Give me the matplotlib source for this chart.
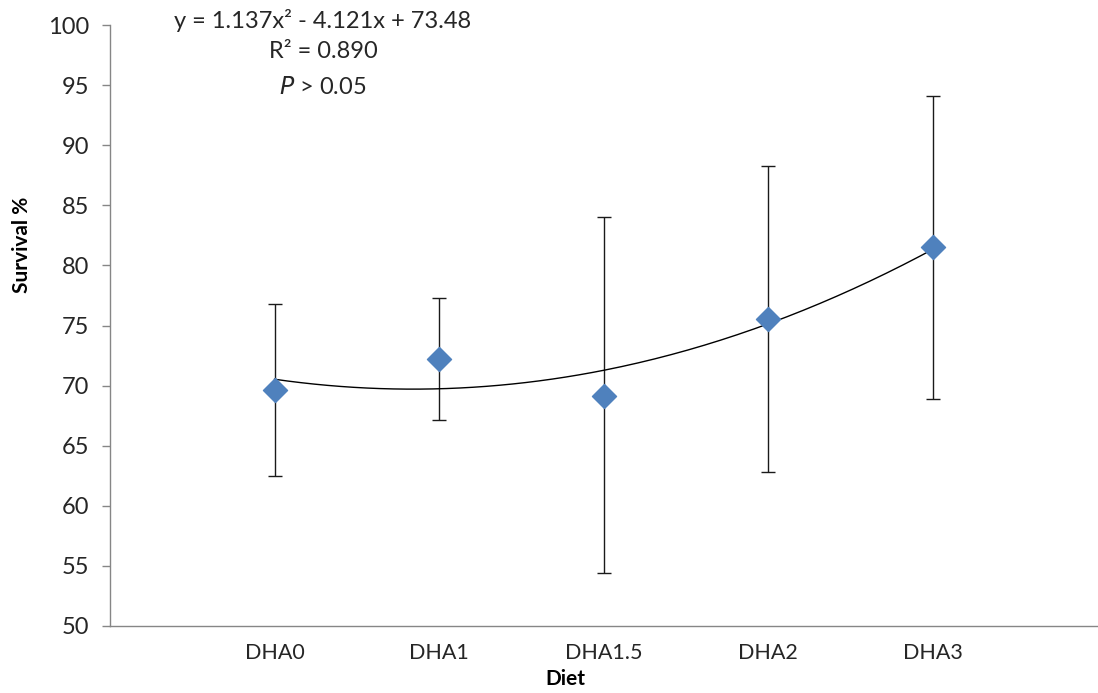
import numpy as np
import matplotlib
matplotlib.use("Agg")
import matplotlib.pyplot as plt

plt.rcParams['font.family'] = ['Lato', 'DejaVu Sans']

categories = ["DHA0", "DHA1", "DHA1.5", "DHA2", "DHA3"]
survival = [69.65, 72.2, 69.15, 75.5, 81.5]
err_upper = [76.75, 77.3, 84.0, 88.3, 94.1]
err_lower = [62.45, 67.15, 54.4, 62.8, 68.9]
eq_lines = ["y = 1.137x² - 4.121x + 73.48", "R² = 0.890", "$\\it{P}$ > 0.05"]

x = np.arange(1, len(categories) + 1)
vals = np.array(survival)
yerr = np.vstack([vals - np.array(err_lower), np.array(err_upper) - vals])

fig = plt.figure(figsize=(10.98, 6.93), dpi=100)
ax = fig.add_axes([0.1002, 0.0967, 0.899, 0.8672])

ax.errorbar(x, vals, yerr=yerr, fmt='none', ecolor='#1a1a1a', elinewidth=1.0,
            capsize=5, capthick=1.0, zorder=2)
coef = np.polyfit(x, vals, 2)
xs = np.linspace(1, 5, 200)
ax.plot(xs, np.polyval(coef, xs), color='black', lw=1.0, zorder=3)
ax.scatter(x, vals, marker='D', s=150, color='#4F81BD', edgecolors='#4F81BD', zorder=4)

ax.set_xlim(0, 6)
ax.set_ylim(50, 100)
ax.set_yticks(np.arange(50, 101, 5))
ax.set_xticks(x)
ax.set_xticklabels(categories)
ax.tick_params(axis='y', length=6, width=1, color='#868686', labelsize=17, pad=9, labelcolor='#262626')
ax.tick_params(axis='x', length=0, labelsize=15.5, pad=12, labelcolor='#262626')
for s in ['top', 'right']:
    ax.spines[s].set_visible(False)
for s in ['left', 'bottom']:
    ax.spines[s].set_color('#868686')
    ax.spines[s].set_linewidth(1.0)

ax.set_ylabel("Survival %", fontsize=15, fontweight='bold')
ax.yaxis.set_label_coords(-0.079, 0.634)
ax.set_xlabel("Diet", fontsize=15, fontweight='bold')
ax.xaxis.set_label_coords(0.4617, -0.072)

fig.text(323/1098, 1 - 20/693, eq_lines[0], ha='center', va='center', fontsize=17, color='#262626')
fig.text(323/1098, 1 - 52/693, eq_lines[1], ha='center', va='center', fontsize=17, color='#262626')
fig.text(323/1098, 1 - 87/693, eq_lines[2], ha='center', va='center', fontsize=17, color='#262626')

fig.savefig("out.png", dpi=100)
